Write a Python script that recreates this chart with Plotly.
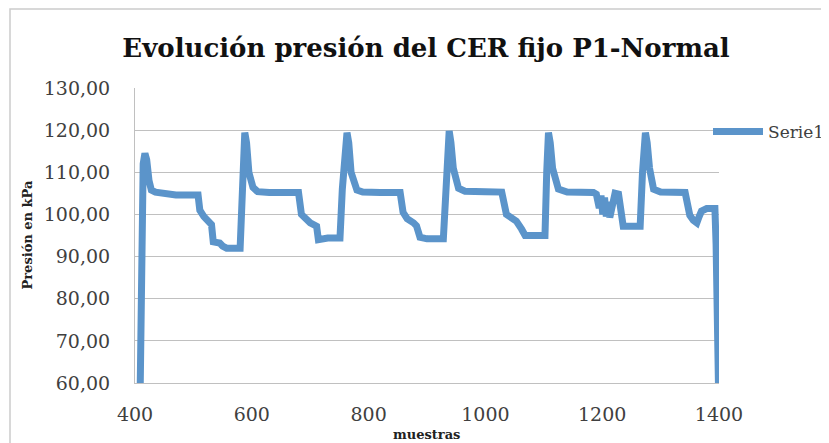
import plotly.graph_objects as go

# Data
muestras = [409, 411, 414, 417, 420, 424, 428, 435, 450, 470, 508, 511, 518, 525, 531, 534, 545, 550, 557, 580,
            583, 586, 588, 591, 595, 602, 610, 630, 680, 685, 692, 700, 711, 714, 730, 751,
            755, 760, 763, 766, 770, 780, 790, 820, 854, 859, 866, 877, 882, 888, 900, 928,
            932, 936, 938, 941, 945, 954, 965, 1000, 1028, 1036, 1045, 1053, 1062, 1068, 1085, 1102,
            1105, 1108, 1111, 1115, 1125, 1140, 1185, 1190, 1195, 1198, 1201, 1204, 1207, 1210, 1213,
            1217, 1222, 1228, 1233, 1236, 1250, 1265, 1269, 1274, 1277, 1281, 1288, 1300, 1342,
            1350, 1356, 1362, 1366, 1370, 1379, 1393, 1395, 1397, 1399]
presion = [60, 85, 112, 114.5, 113, 108, 105.8, 105.3, 105, 104.6, 104.6, 101, 99.5, 98.4, 97.6, 93.5, 93.2, 92.5, 92, 92,
           100, 115, 119.4, 117, 110, 106.4, 105.4, 105.2, 105.2, 100, 98.8, 98, 97.2, 94, 94.4, 94.4,
           106, 117, 119.4, 117, 110, 105.8, 105.3, 105.2, 105.2, 100.5, 99, 98, 97.3, 94.6, 94.2, 94.2,
           106, 118, 119.8, 117, 111, 106.2, 105.5, 105.4, 105.3, 100, 99, 98.4, 96.5, 95, 95, 95,
           110, 119.4, 117, 111, 106, 105.3, 105.2, 104.8, 101.5, 104.5, 100, 104, 99.5, 103, 99.3,
           101.5, 105, 104.8, 97.5, 97.2, 97.2, 97.2, 110, 119.4, 117, 111, 106, 105.3, 105.2,
           99.8, 98.6, 98, 99.5, 100.8, 101.4, 101.4, 93, 78, 60]

x_ticks = [400, 600, 800, 1000, 1200, 1400]
y_ticks = [60, 70, 80, 90, 100, 110, 120, 130]

title_text = "Evolución presión del CER fijo P1-Normal"
x_title = "muestras"
y_title = "Presión en kPa"
series_name = "Serie1"

# The page body has an 8px margin: lay out in window pixels, shifted by it
O = 8
WIN_W, WIN_H = 829, 443
W, H = WIN_W - O, WIN_H - O
PL, PR, PT, PB = 135, 719, 88, 383          # plot area in window pixels
L, T = PL - O, PT - O
R, B = WIN_W - PR, WIN_H - PB
pw, ph = PR - PL, PB - PT

def px_x(p):
    return (p - PL) / pw

def px_y(p):
    return (PB - p) / ph

def cx(p):
    return (p - O) / W

def cy(p):
    return 1 - (p - O) / H

serif = "DejaVu Serif"
grid = "#c0c0c0"

fig = go.Figure()
fig.add_trace(go.Scatter(
    x=muestras, y=presion, mode="lines", name=series_name,
    line=dict(color="#5B94CA", width=7),
))

fig.update_layout(
    width=W, height=H,
    margin=dict(l=L, r=R, t=T, b=B, autoexpand=False),
    paper_bgcolor="white", plot_bgcolor="white",
    separators=",.",
    showlegend=True,
    legend=dict(x=cx(708), y=cy(132), xref="container", yref="container",
                xanchor="left", yanchor="middle",
                font=dict(family=serif, size=17, color="#404040"),
                bgcolor="rgba(0,0,0,0)", itemwidth=50),
    title=dict(text=title_text, x=cx(426), y=cy(48), xref="container", yref="container",
               xanchor="center", yanchor="middle",
               font=dict(family=serif, size=26, color="#111111", weight="bold")),
    xaxis=dict(range=[400, 1400], tickvals=x_ticks, showgrid=False, zeroline=False,
               showline=True, linecolor=grid, linewidth=1, ticks="", automargin=False,
               ticklabelstandoff=14,
               tickfont=dict(family=serif, size=19, color="#404040")),
    yaxis=dict(range=[60, 130], tickvals=y_ticks, tickformat=".2f", showgrid=True,
               gridcolor=grid, gridwidth=1, zeroline=False, automargin=False,
               showline=True, linecolor=grid, linewidth=1, ticks="",
               ticklabelstandoff=20,
               tickfont=dict(family=serif, size=19, color="#404040")),
    annotations=[
        dict(text=y_title, x=px_x(27), y=0.5, xref="paper", yref="paper", textangle=-90,
             showarrow=False, xanchor="center", yanchor="middle",
             font=dict(family=serif, size=13, color="#222222", weight="bold")),
        dict(text=x_title, x=px_x(426), y=px_y(434), xref="paper", yref="paper",
             showarrow=False, xanchor="center", yanchor="middle",
             font=dict(family=serif, size=13, color="#222222", weight="bold")),
    ],
    shapes=[
        dict(type="rect", xref="paper", yref="paper",
             x0=px_x(10), x1=px_x(WIN_W + 20), y0=px_y(WIN_H + 20), y1=px_y(9),
             line=dict(color="#cccccc", width=1.5), fillcolor="rgba(0,0,0,0)", layer="below"),
    ],
)

fig.write_html("out.html")
